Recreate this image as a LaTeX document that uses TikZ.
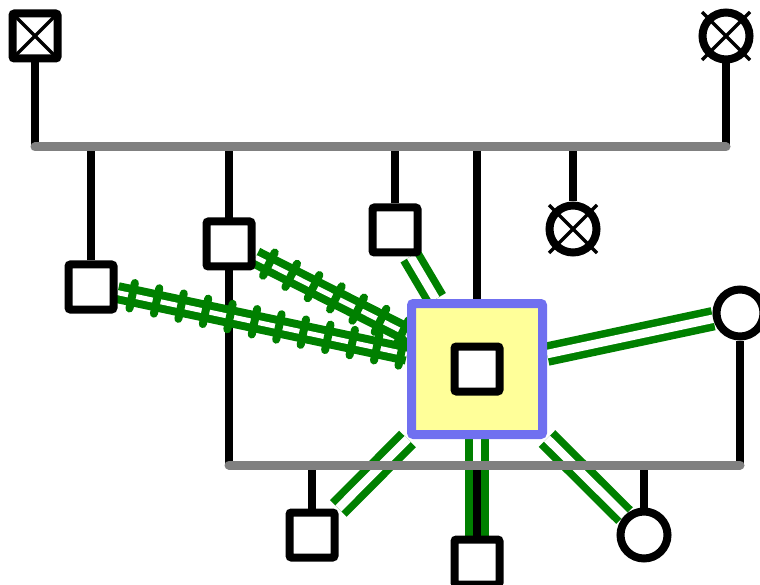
\documentclass[tikz,border=0pt]{standalone}
\usetikzlibrary{decorations.markings,backgrounds}
\definecolor{gline}{RGB}{0,128,0}
\definecolor{gbus}{RGB}{128,128,128}
\definecolor{yfill}{RGB}{255,255,153}
\definecolor{bborder}{RGB}{112,112,240}
\begin{document}
\begin{tikzpicture}[x=1pt,y=-1pt,
  sq/.style={rectangle, draw=black, fill=white, line width=8pt, minimum size=45pt, inner sep=0pt, rounded corners=2pt},
  sqx/.style={sq, path picture={\draw[xline] (path picture bounding box.south west) -- (path picture bounding box.north east) (path picture bounding box.north west) -- (path picture bounding box.south east);}},
  ci/.style={circle, draw=black, fill=white, line width=8pt, minimum size=47pt, inner sep=0pt},
  focus/.style={rectangle, draw=bborder, fill=yfill, line width=9pt, minimum size=131pt, inner sep=0pt, rounded corners=2pt},
  kid/.style={draw=black, line width=7.5pt},
  bus/.style={draw=gbus, line width=9pt, line cap=round},
  xline/.style={draw=black, line width=3.5pt},
  link/.style={draw=gline, line width=7.5pt, double=white, double distance=8.5pt},
  hostile/.style={draw=gline, line width=8pt, double=white, double distance=5pt},
  tickmark/.style={draw=gline, line width=8pt, line cap=round},
  hatch/.style={decorate, decoration={markings, mark=between positions 15pt and -3pt step 25pt with {\draw[tickmark] (0,-13pt) -- (0,13pt);}}},
]
\useasboundingbox (0,0) rectangle (760,585);

% people
\node[sqx] (A) at (35,36) {};
\node[ci] (B) at (726,36) {};
\node[sq] (C) at (91,287) {};
\node[sq] (D) at (229,244) {};
\node[sq] (E) at (395,230) {};
\node[focus] (F) at (477,369) {};
\node[sq, minimum size=45pt] (F2) at (F) {};
\node[ci] (G) at (573,229) {};
\node[ci] (H) at (740,313) {};
\node[sq] (I) at (312,535) {};
\node[sq] (J) at (477,562) {};
\node[ci] (K) at (644,535) {};

% crosses on circles
\draw[xline] ([shift={(-24,-24)}]B.center) -- ([shift={(24,24)}]B.center)
             ([shift={(-24,24)}]B.center) -- ([shift={(24,-24)}]B.center);
\draw[xline] ([shift={(-24,-24)}]G.center) -- ([shift={(24,24)}]G.center)
             ([shift={(-24,24)}]G.center) -- ([shift={(24,-24)}]G.center);

% bus end points
\coordinate (tL) at (35,147);
\coordinate (tR) at (726,147);
\coordinate (lL) at (229,465);
\coordinate (lR) at (740,465);

\begin{scope}[on background layer]
  \draw[kid] (D |- tL) -- (D |- lL);
  % hostile links
  \draw[hostile] (C) -- (F);
  \path[hatch] (C) -- (F);
  \draw[hostile] (D) -- (F);
  \path[hatch] (D) -- (F);
  % plain links
  \draw[link] (F) -- (E);
  \draw[link] (F) -- (H);
  \draw[link] (F) -- (I);
  \draw[link] (F) -- (J);
  \draw[link] (F) -- (K);
  % descent lines
  \draw[kid] (A) -- (A |- tL);
  \draw[kid] (B) -- (B |- tR);
  \draw[kid] (C) -- (C |- tL);
  \draw[kid] (E) -- (E |- tL);
  \draw[kid] (F) -- (F |- tL);
  \draw[kid] (G) -- (G |- tL);
  \draw[kid] (H) -- (H |- lL);
  \draw[kid] (I) -- (I |- lL);
  \draw[kid] (J) -- (J |- lL);
  \draw[kid] (K) -- (K |- lL);
  % buses
  \draw[bus] (tL) -- (tR);
  \draw[bus] (lL) -- (lR);
\end{scope}
\end{tikzpicture}
\end{document}
